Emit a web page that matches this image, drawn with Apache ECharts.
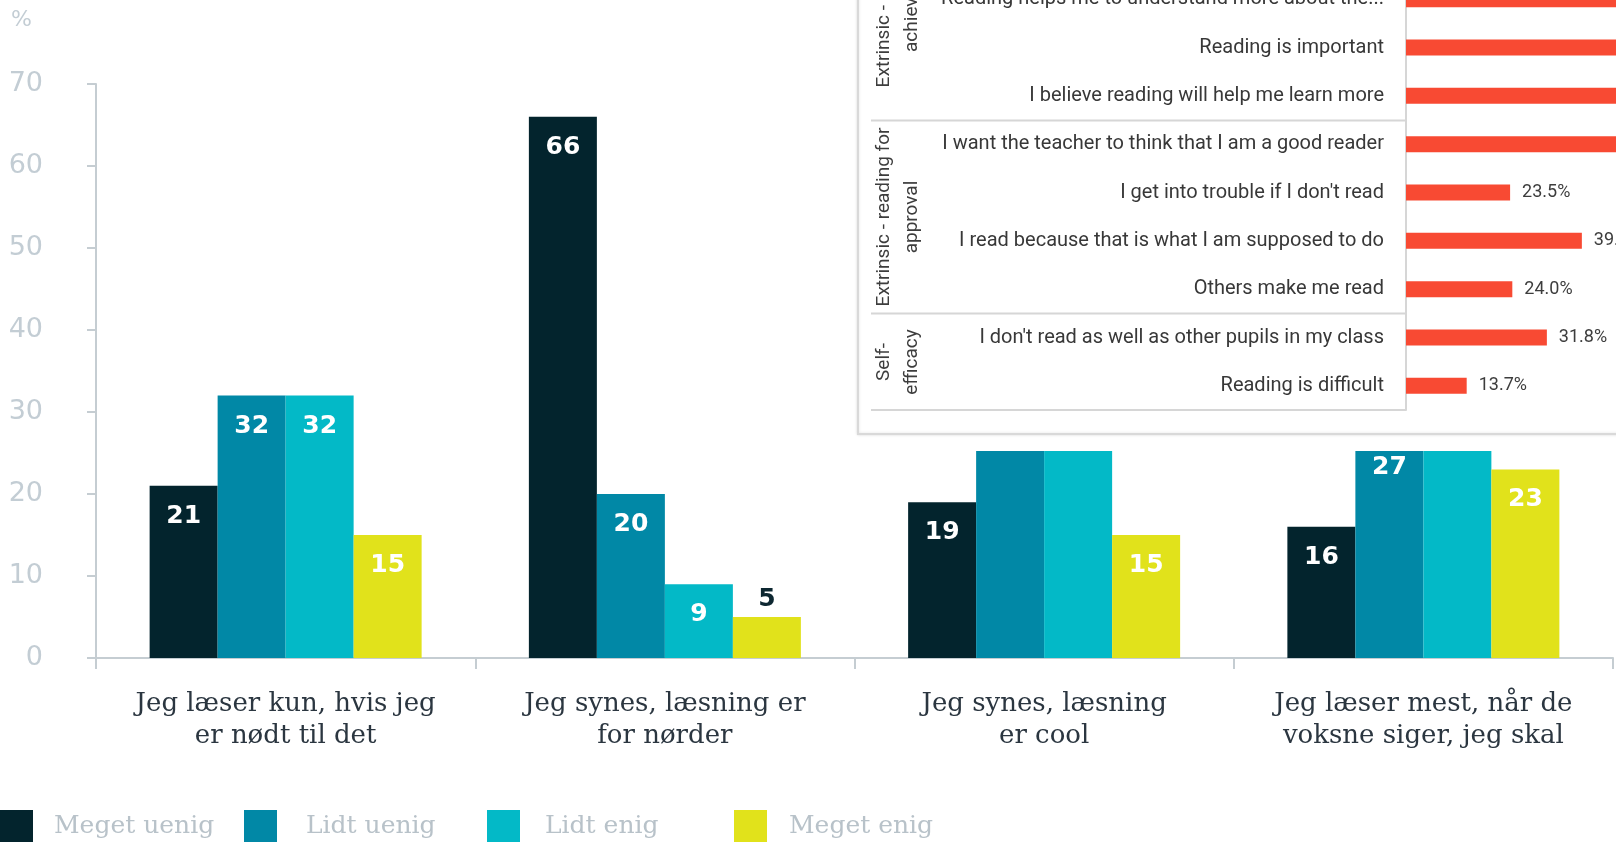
<!DOCTYPE html>
<html>
<head>
<meta charset="utf-8">
<script src="https://cdn.jsdelivr.net/npm/echarts@6/dist/echarts.min.js"></script>
<style>
html,body{margin:0;padding:0;background:#fff;}
#chart{width:1616px;height:842px;}
</style>
</head>
<body>
<div id="chart"></div>
<script>
// ---- Main chart data ----
const categories = [
  "Jeg læser kun, hvis jeg\ner nødt til det",
  "Jeg synes, læsning er\nfor nørder",
  "Jeg synes, læsning\ner cool",
  "Jeg læser mest, når de\nvoksne siger, jeg skal"
];
const seriesNames = ["Meget uenig", "Lidt uenig", "Lidt enig", "Meget enig"];
const megetUenig = [21, 66, 19, 16];
const lidtUenig  = [32, 20, 33, 27];
const lidtEnig   = [32, 9, 33, 34];
const megetEnig  = [15, 5, 15, 23];
const yTicks = [0, 10, 20, 30, 40, 50, 60, 70];
const yUnit = "%";

// ---- Inset chart data ----
const insetItems = [
  "Reading helps me to understand more about the...",
  "Reading is important",
  "I believe reading will help me learn more",
  "I want the teacher to think that I am a good reader",
  "I get into trouble if I don't read",
  "I read because that is what I am supposed to do",
  "Others make me read",
  "I don't read as well as other pupils in my class",
  "Reading is difficult"
];
const insetValues = [85.0, 88.0, 86.0, 62.0, 23.5, 39.7, 24.0, 31.8, 13.7];
const insetGroups = [
  "Extrinsic - reading for\nachievement",
  "Extrinsic - reading for\napproval",
  "Self-\nefficacy"
];

const colors = ["#03242d", "#0188a6", "#03b9c7", "#e1e21b"];
const seriesData = [megetUenig, lidtUenig, lidtEnig, megetEnig];

const chart = echarts.init(document.getElementById('chart'), null, {renderer: 'canvas'});

const mainSeries = seriesNames.map((name, i) => ({
  name: name,
  type: 'bar',
  xAxisIndex: 0, yAxisIndex: 0,
  barWidth: 68,
  barGap: '0%',
  z: 2,
  itemStyle: {color: colors[i]},
  data: seriesData[i].map(v => ({
    value: v,
    label: v < 8 ? {position: 'top', distance: 5, color: '#0d2731'} : {}
  })),
  label: {
    show: true,
    position: 'insideTop',
    distance: 18,
    color: '#ffffff',
    fontFamily: 'DejaVu Sans',
    fontWeight: 'bold',
    fontSize: 25
  }
}));

const legendLefts = [0, 244, 487, 734];
const legendPads = [16, 24, 20, 17];
const legends = seriesNames.map((n, i) => ({
  data: [n],
  left: legendLefts[i],
  top: 810,
  padding: 0,
  icon: 'rect',
  itemWidth: 33,
  itemHeight: 33,
  textStyle: {
    fontFamily: 'DejaVu Serif',
    fontSize: 25,
    color: '#b8c2c9',
    padding: [0, 0, 0, legendPads[i]]
  }
}));

const option = {
  backgroundColor: '#ffffff',
  animation: false,
  title: {
    text: yUnit,
    left: 11, top: 9,
    padding: 0,
    textStyle: {fontFamily: 'DejaVu Sans', fontWeight: 'normal', fontSize: 22, color: '#c3cdd4'}
  },
  legend: legends,
  grid: [
    {left: 96, right: 3, top: 84, bottom: 184, outerBoundsMode: 'none', containLabel: false},
    {left: 1406, width: 443, top: -25, height: 435, outerBoundsMode: 'none', containLabel: false}
  ],
  xAxis: [
    {
      type: 'category',
      gridIndex: 0,
      data: categories,
      axisLine: {show: true, lineStyle: {color: '#c5cdd2', width: 2}},
      axisTick: {show: true, length: 11, lineStyle: {color: '#c5cdd2', width: 2}},
      axisLabel: {
        margin: 30,
        fontFamily: 'DejaVu Serif',
        fontSize: 26,
        lineHeight: 32,
        color: '#2b3640',
        interval: 0
      },
      splitLine: {show: false}
    },
    {
      type: 'value',
      gridIndex: 1,
      min: 0, max: 100,
      show: false
    }
  ],
  yAxis: [
    {
      type: 'value',
      gridIndex: 0,
      min: yTicks[0], max: yTicks[yTicks.length - 1], interval: 10,
      axisLine: {show: true, lineStyle: {color: '#c5cdd2', width: 2}},
      axisTick: {show: true, length: 9, lineStyle: {color: '#c5cdd2', width: 2}},
      axisLabel: {
        margin: 53,
        fontFamily: 'DejaVu Sans',
        fontSize: 27,
        color: '#c3cdd4'
      },
      splitLine: {show: false}
    },
    {
      type: 'category',
      gridIndex: 1,
      inverse: true,
      data: insetItems,
      z: 10,
      axisLine: {show: true, lineStyle: {color: '#d6d6d6', width: 2}},
      axisTick: {show: false},
      axisLabel: {
        margin: 22,
        fontFamily: 'Roboto',
        fontSize: 20,
        color: '#383838',
        padding: [6, 0, 0, 0],
        interval: 0
      },
      splitLine: {show: false}
    }
  ],
  series: mainSeries.concat([{
    name: 'inset',
    type: 'bar',
    xAxisIndex: 1, yAxisIndex: 1,
    barWidth: 16,
    z: 10,
    itemStyle: {color: '#f84a33'},
    data: insetValues,
    label: {
      show: true,
      position: 'right',
      distance: 12,
      fontFamily: 'Roboto',
      fontSize: 18,
      color: '#3d3d3d',
      formatter: p => p.value.toFixed(1) + '%'
    }
  }]),
  graphic: [
    {type: 'rect', z: 5, silent: true, shape: {x: 845, y: -20, width: 800, height: 471}, style: {fill: '#ffffff'}},
    {type: 'rect', z: 6, silent: true, shape: {x: 858, y: -20, width: 800, height: 454},
      style: {fill: '#ffffff', stroke: '#d9d9d9', lineWidth: 2, shadowBlur: 3, shadowColor: 'rgba(0,0,0,0.12)'}},
    {type: 'line', z: 9, silent: true, shape: {x1: 871, y1: 120.5, x2: 1406, y2: 120.5}, style: {stroke: '#d6d6d6', lineWidth: 2}},
    {type: 'line', z: 9, silent: true, shape: {x1: 871, y1: 313.5, x2: 1406, y2: 313.5}, style: {stroke: '#d6d6d6', lineWidth: 2}},
    {type: 'line', z: 9, silent: true, shape: {x1: 871, y1: 410, x2: 1406, y2: 410}, style: {stroke: '#d6d6d6', lineWidth: 2}},
    {type: 'text', z: 9, silent: true, x: 898, y: -2, rotation: Math.PI / 2,
      style: {text: insetGroups[0], align: 'center', verticalAlign: 'middle', font: '19px Roboto', fill: '#3d3d3d', lineHeight: 28}},
    {type: 'text', z: 9, silent: true, x: 898, y: 217, rotation: Math.PI / 2,
      style: {text: insetGroups[1], align: 'center', verticalAlign: 'middle', font: '19px Roboto', fill: '#3d3d3d', lineHeight: 28}},
    {type: 'text', z: 9, silent: true, x: 898, y: 362, rotation: Math.PI / 2,
      style: {text: insetGroups[2], align: 'center', verticalAlign: 'middle', font: '19px Roboto', fill: '#3d3d3d', lineHeight: 28}}
  ]
};

chart.setOption(option);
</script>
</body>
</html>
